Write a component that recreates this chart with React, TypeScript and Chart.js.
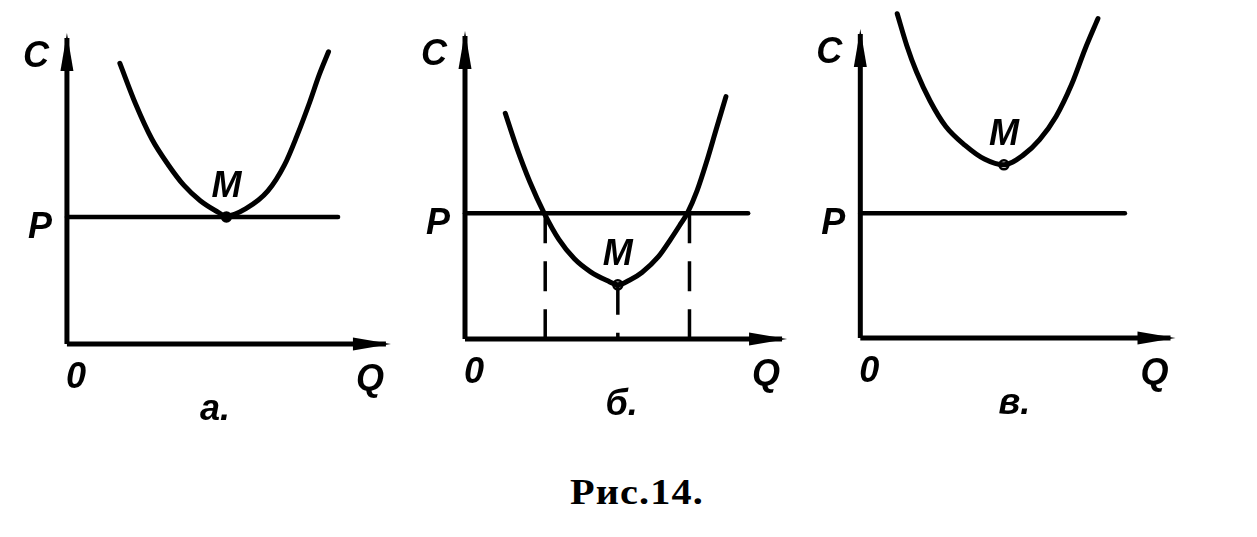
import React, { useEffect, useRef } from 'react';
import { Chart, registerables } from 'chart.js';

Chart.register(...registerables);

// ---- Data (abstract units, axes run 0..10) ----
const panelNames = ['а.', 'б.', 'в.'];
const axisMax = 10;
const priceP = [4.15, 4.15, 4.11];
const priceLineEndQ = [8.5, 8.93, 8.53];

const curveAQ = [1.66, 2.15, 2.67, 3.18, 3.67, 4.18, 4.7, 5.0, 5.61, 6.3, 6.82, 7.21, 7.61, 7.91, 8.2];
const curveAC = [9.17, 7.85, 6.68, 5.85, 5.18, 4.68, 4.33, 4.18, 4.42, 5.0, 5.85, 6.8, 7.9, 8.8, 9.55];

const curveBQ = [1.27, 1.62, 2.04, 2.5, 2.96, 3.45, 3.96, 4.48, 4.82, 5.2, 5.58, 6.1, 6.49, 6.8, 7.01, 7.32, 7.62, 7.93, 8.23];
const curveBC = [7.45, 6.35, 5.2, 4.15, 3.29, 2.65, 2.22, 1.93, 1.79, 1.95, 2.2, 2.72, 3.3, 3.8, 4.15, 4.9, 5.85, 6.95, 8.0];

const curveCQ = [1.19, 1.5, 1.81, 2.25, 2.75, 3.38, 4.0, 4.63, 5.25, 5.78, 6.31, 6.81, 7.25, 7.66];
const curveCC = [10.67, 9.62, 8.76, 7.8, 6.97, 6.34, 5.89, 5.7, 6.02, 6.53, 7.29, 8.34, 9.52, 10.51];

const minQ = [5.0, 4.82, 4.63];
const minC = [4.15, 1.79, 5.7];

// dashed drop lines (panel б only)
const dropQ = [2.53, 4.82, 7.08];
const dropC = [4.15, 1.79, 4.15];

const curvesQ = [curveAQ, curveBQ, curveCQ];
const curvesC = [curveAC, curveBC, curveCC];

// ---- Layout (pixels) ----
const layouts = [
  { left: 0, top: 0, width: 420, height: 440, ox: 62, oy: 348, sx: 33, sy: 31.6, filledM: true, nameQ: 4.64 },
  { left: 400, top: 0, width: 420, height: 440, ox: 460, oy: 343, sx: 32.8, sy: 31.3, filledM: false, nameQ: 4.94 },
  { left: 800, top: 0, width: 457, height: 440, ox: 855, oy: 342, sx: 32, sy: 31.4, filledM: false, nameQ: 4.97 },
];

const LABEL_FONT = 'italic bold 36px "Liberation Sans", Arial, sans-serif';

function Panel({ idx }: { idx: number }) {
  const ref = useRef<HTMLCanvasElement | null>(null);
  const L = layouts[idx];

  useEffect(() => {
    if (!ref.current) return;
    const xMin = -(L.ox - L.left) / L.sx;
    const xMax = xMin + L.width / L.sx;
    const yMin = -(L.top + L.height - L.oy) / L.sy;
    const yMax = yMin + L.height / L.sy;

    const line = (pts: { x: number; y: number }[], width: number, extra: any = {}) => ({
      data: pts,
      showLine: true,
      borderColor: '#000',
      borderWidth: width,
      pointRadius: 0,
      tension: 0,
      ...extra,
    });

    const datasets: any[] = [
      line([{ x: 0, y: 0 }, { x: 0, y: axisMax }], 5),
      line([{ x: 0, y: 0 }, { x: axisMax, y: 0 }], 5),
      line([{ x: 0, y: priceP[idx] }, { x: priceLineEndQ[idx], y: priceP[idx] }], 4.5, { borderCapStyle: 'round' }),
    ];
    if (idx === 1) {
      dropQ.forEach((q, i) => {
        datasets.push(line([{ x: q, y: dropC[i] }, { x: q, y: 0 }], 3.5, { borderDash: [30, 18] }));
      });
    }
    datasets.push(
      line(
        curvesQ[idx].map((q, i) => ({ x: q, y: curvesC[idx][i] })),
        5,
        { cubicInterpolationMode: 'monotone', borderCapStyle: 'round', borderJoinStyle: 'round' }
      )
    );
    datasets.push({
      data: [{ x: minQ[idx], y: minC[idx] }],
      showLine: false,
      pointRadius: 4.5,
      pointBackgroundColor: L.filledM ? '#000' : '#fff',
      pointBorderColor: '#000',
      pointBorderWidth: 2.5,
    });

    const overlay = {
      id: 'overlay' + idx,
      afterDatasetsDraw(chart: any) {
        const ctx = chart.ctx;
        const xs = chart.scales.x;
        const ys = chart.scales.y;
        const X = (v: number) => xs.getPixelForValue(v);
        const Y = (v: number) => ys.getPixelForValue(v);
        ctx.save();
        ctx.fillStyle = '#000';
        // y arrow
        const ytx = X(0), yty = Y(axisMax) - 5;
        ctx.beginPath();
        ctx.moveTo(ytx, yty);
        ctx.lineTo(ytx - 6.5, yty + 38);
        ctx.lineTo(ytx + 6.5, yty + 38);
        ctx.closePath();
        ctx.fill();
        // x arrow
        const xtx = X(axisMax) + 5, xty = Y(0);
        ctx.beginPath();
        ctx.moveTo(xtx, xty);
        ctx.lineTo(xtx - 38, xty - 6.5);
        ctx.lineTo(xtx - 38, xty + 6.5);
        ctx.closePath();
        ctx.fill();

        ctx.font = LABEL_FONT;
        ctx.textAlign = 'center';
        ctx.textBaseline = 'middle';
        ctx.fillText('C', X(0) - 31, Y(axisMax) + 19);
        ctx.fillText('P', X(0) - 27, Y(priceP[idx]) + 11);
        ctx.fillText('M', X(minQ[idx]), Y(minC[idx]) - 30);
        ctx.fillText('0', X(0) + 9, Y(0) + 34);
        ctx.fillText('Q', X(axisMax) - 16, Y(0) + 36);
        ctx.fillText(panelNames[idx], X(L.nameQ), Y(0) + 66);
        ctx.restore();
      },
    };

    const chart = new Chart(ref.current, {
      type: 'scatter',
      data: { datasets },
      options: {
        responsive: false,
        maintainAspectRatio: false,
        animation: false,
        devicePixelRatio: 1,
        events: [],
        layout: { padding: 0 },
        plugins: { legend: { display: false }, tooltip: { enabled: false } },
        scales: {
          x: { type: 'linear', min: xMin, max: xMax, display: false, bounds: 'data', grace: 0 },
          y: { type: 'linear', min: yMin, max: yMax, display: false, bounds: 'data', grace: 0 },
        },
      } as any,
      plugins: [overlay],
    });
    return () => chart.destroy();
  }, [idx]);

  return (
    <canvas
      ref={ref}
      width={L.width}
      height={L.height}
      style={{ position: 'absolute', left: L.left, top: L.top, width: L.width, height: L.height }}
    />
  );
}

export default function App() {
  return (
    <div style={{ position: 'fixed', left: 0, top: 0, width: 1257, height: 537, background: '#fff', overflow: 'hidden' }}>
      <Panel idx={0} />
      <Panel idx={1} />
      <Panel idx={2} />
      <div
        style={{
          position: 'absolute',
          left: 637,
          top: 475,
          transform: 'translateX(-50%) scaleX(1.15)',
          font: 'bold 35px "Liberation Serif", "Times New Roman", serif',
          lineHeight: '35px',
          letterSpacing: '1px',
          whiteSpace: 'nowrap',
          color: '#000',
        }}
      >
        Рис.14.
      </div>
    </div>
  );
}
